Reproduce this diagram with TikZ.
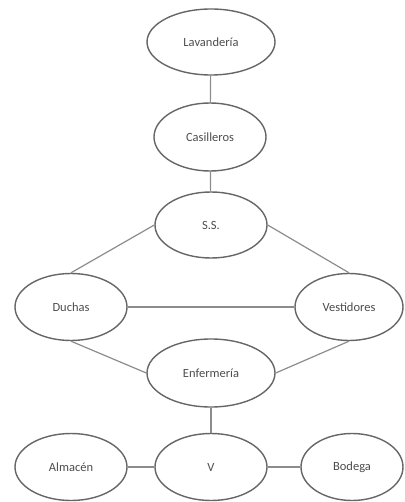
\documentclass[tikz,border=0pt]{standalone}
\usepackage{fontspec}
\setmainfont{Carlito}
\usetikzlibrary{shapes.geometric}
\begin{document}
\begin{tikzpicture}[x=1pt,y=-1pt,
  el/.style={draw=black!60, line width=1.4pt, ellipse, inner sep=0pt, font=\fontsize{12.5}{14}\selectfont, text=black!70},
  ln/.style={draw=black!45, line width=1.2pt}]
\useasboundingbox (0,0) rectangle (404,502);
\node[el, minimum width=128pt, minimum height=66pt] (lav) at (211,42) {Lavandería};
\node[el, minimum width=112pt, minimum height=68pt] (cas) at (210,137) {Casilleros};
\node[el, minimum width=112pt, minimum height=66pt] (ss) at (211,225) {S.S.};
\node[el, minimum width=112pt, minimum height=67pt] (duc) at (71,307) {Duchas};
\node[el, minimum width=108pt, minimum height=67pt] (ves) at (349,307) {Vestidores};
\node[el, minimum width=128pt, minimum height=68pt] (enf) at (211,373) {Enfermería};
\node[el, minimum width=112pt, minimum height=67pt] (v) at (211,467) {V};
\node[el, minimum width=112pt, minimum height=67pt] (alm) at (71,467) {Almacén};
\node[el, minimum width=102pt, minimum height=67pt] (bod) at (352,467) {Bodega};
\draw[ln] (lav) -- (cas);
\draw[ln] (cas) -- (ss);
\draw[ln] (ss.west) -- (duc.north);
\draw[ln] (ss.east) -- (ves.north);
\draw[ln] (duc) -- (ves);
\draw[ln] (duc.south) -- (enf.west);
\draw[ln] (ves.south) -- (enf.east);
\draw[ln] (enf) -- (v);
\draw[ln] (v) -- (alm);
\draw[ln] (v) -- (bod);
\end{tikzpicture}
\end{document}
